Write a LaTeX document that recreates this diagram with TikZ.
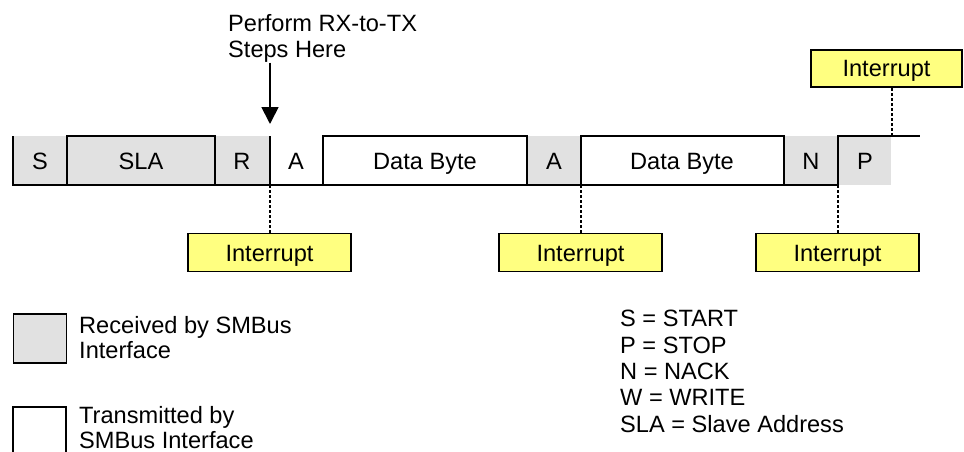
\documentclass[tikz,border=0pt]{standalone}
\usepackage{fontspec}
\setmainfont{Liberation Sans}
\usetikzlibrary{arrows.meta}
\definecolor{rxgray}{RGB}{225,225,225}
\definecolor{intyellow}{RGB}{255,255,128}
\begin{document}
\begin{tikzpicture}[x=1pt,y=-1pt,
  txt/.style={font=\fontsize{23.6}{26.3}\selectfont, inner sep=0pt},
  cellt/.style={txt, text height=17pt, text depth=0pt},
  wave/.style={line width=1.8pt, black},
  intbox/.style={cellt, draw=black, line width=1.8pt, fill=intyellow, minimum width=163pt, minimum height=38pt},
  legbox/.style={draw=black, line width=1.8pt, minimum width=53pt, minimum height=49pt, inner sep=0pt},
  dots/.style={line width=1.8pt, dash pattern=on 3pt off 2pt},
]
\useasboundingbox (0,0) rectangle (964,452);
% received (grey) regions
\fill[rxgray] (13,136) rectangle (270,185);
\fill[rxgray] (527,136) rectangle (581,185);
\fill[rxgray] (784,136) rectangle (891,185);
% waveform lines
\draw[wave] (13,136) -- (13,185) -- (838,185);
\draw[wave] (67,185) -- (67,136) -- (215,136) -- (215,185);
\draw[wave] (270,136) -- (270,185);
\draw[wave] (323,185) |- (527,136) -- (527,185);
\draw[wave] (581,185) |- (784,136) -- (784,185);
\draw[wave] (838,185) |- (920,136);
% cell labels
\node[cellt] (cS)   at (40,160.5)  {S};
\node[cellt] (cSLA) at (141,160.5) {SLA};
\node[cellt] (cR)   at (242,160.5) {R};
\node[cellt] (cA1)  at (296,160.5) {A};
\node[cellt] (cD1)  at (425,160.5) {Data Byte};
\node[cellt] (cA2)  at (554,160.5) {A};
\node[cellt] (cD2)  at (682,160.5) {Data Byte};
\node[cellt] (cN)   at (811,160.5) {N};
\node[cellt] (cP)   at (865,160.5) {P};
% event points on the waveform
\coordinate (t1) at (270,185);
\coordinate (t2) at (581,185);
\coordinate (t3) at (838,185);
\coordinate (t4) at (892,136);
\coordinate (arrtip) at (270,124);
% interrupt boxes
\node[intbox] (int1) at (269.5,252.5) {Interrupt};
\node[intbox] (int2) at (580.5,252.5) {Interrupt};
\node[intbox] (int3) at (837.5,252.5) {Interrupt};
\node[intbox, minimum width=151pt, minimum height=37pt] (int4) at (886.5,68.5) {Interrupt};
\draw[dots] (t1) -- (t1 |- int1.north);
\draw[dots] (t2) -- (t2 |- int2.north);
\draw[dots] (t3) -- (t3 |- int3.north);
\draw[dots] (t4) -- (t4 |- int4.south);
% RX-to-TX note
\node[txt, anchor=base west] (note1) at (228,31.7) {Perform RX-to-TX};
\node[txt, anchor=base west] (note2) at (228,57.5) {Steps Here};
\draw[line width=1.8pt, -{Triangle[width=17pt,length=17pt]}] (note2.south -| arrtip) -- (arrtip);
% legend
\node[legbox, fill=rxgray] (lg1) at (40,338.5) {};
\node[txt, anchor=base west] (lg1a) at (79,333) {Received by SMBus};
\node[txt, anchor=base west] (lg1b) at (79,358.5) {Interface};
\draw[line width=1.8pt] (13,453) |- (66,407) -- (66,453);
\node[txt, anchor=base west] (lg2a) at (79,423.5) {Transmitted by};
\node[txt, anchor=base west] (lg2b) at (79,448.5) {SMBus Interface};
% definitions
\node[txt, anchor=base west] (d1) at (620,326.7) {S = START};
\node[txt, anchor=base west] (d2) at (620,353) {P = STOP};
\node[txt, anchor=base west] (d3) at (620,379.3) {N = NACK};
\node[txt, anchor=base west] (d4) at (620,405.6) {W = WRITE};
\node[txt, anchor=base west] (d5) at (620,432) {SLA = Slave Address};
\end{tikzpicture}
\end{document}
